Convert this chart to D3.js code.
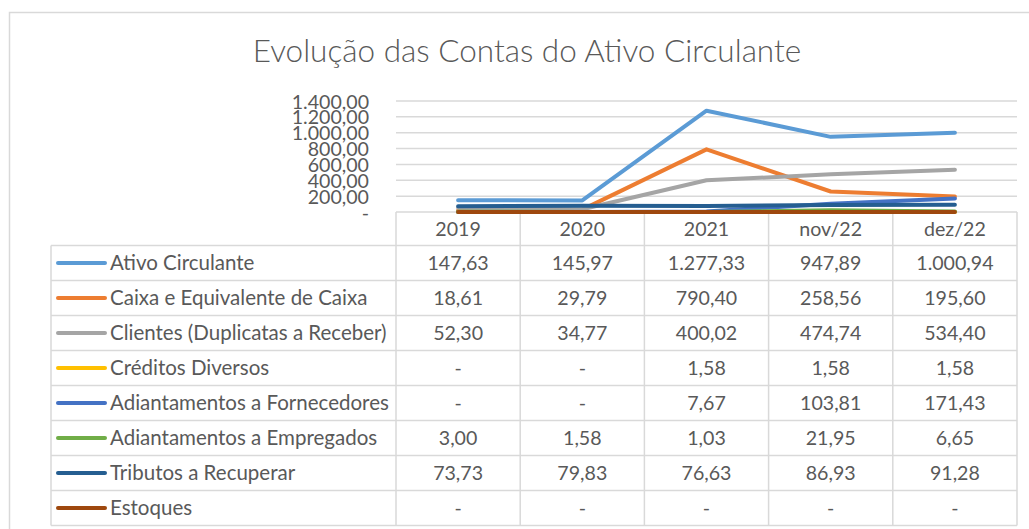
<!DOCTYPE html>
<html>
<head>
<meta charset="utf-8">
<script src="https://cdn.jsdelivr.net/npm/d3@7"></script>
<style>
  html, body { margin: 0; padding: 0; background: #fff; }
  svg { display: block; }
  text { font-family: Lato, "Open Sans", "Liberation Sans", sans-serif; fill: #595959; }
</style>
</head>
<body>
<svg id="chart" width="1029" height="529"></svg>
<script>
// ---- Data ----
const title = "Evolução das Contas do Ativo Circulante";
const categories = ["2019", "2020", "2021", "nov/22", "dez/22"];
const seriesNames = [
  "Ativo Circulante",
  "Caixa e Equivalente de Caixa",
  "Clientes (Duplicatas a Receber)",
  "Créditos Diversos",
  "Adiantamentos a Fornecedores",
  "Adiantamentos a Empregados",
  "Tributos a Recuperar",
  "Estoques"
];
const ativoCirculante      = [147.63, 145.97, 1277.33, 947.89, 1000.94];
const caixaEquivalente     = [18.61, 29.79, 790.40, 258.56, 195.60];
const clientes             = [52.30, 34.77, 400.02, 474.74, 534.40];
const creditosDiversos     = [0, 0, 1.58, 1.58, 1.58];
const adiantFornecedores   = [0, 0, 7.67, 103.81, 171.43];
const adiantEmpregados     = [3.00, 1.58, 1.03, 21.95, 6.65];
const tributosRecuperar    = [73.73, 79.83, 76.63, 86.93, 91.28];
const estoques             = [0, 0, 0, 0, 0];
const seriesValues = [ativoCirculante, caixaEquivalente, clientes, creditosDiversos,
                      adiantFornecedores, adiantEmpregados, tributosRecuperar, estoques];
const seriesColors = ["#5B9BD5", "#ED7D31", "#A5A5A5", "#FFC000", "#4472C4", "#70AD47", "#255E91", "#9E480E"];
const yTicks = [0, 200, 400, 600, 800, 1000, 1200, 1400];

// ---- Layout ----
const svg = d3.select("#chart");
const W = 1029, H = 529;
const plotLeft = 396, plotRight = 1017;
const plotTop = 101, plotBottom = 212;
const tableLeft = 51;
const headerBottom = 245.5;
const rowH = 35;
const gridColor = "#d9d9d9";
const fontSize = 19.6;
const labelSize = 20.5;

svg.append("rect").attr("width", W).attr("height", H).attr("fill", "#fff");
svg.append("rect")
  .attr("x", 9.5).attr("y", 12.5).attr("width", W + 20).attr("height", H + 20)
  .attr("fill", "none").attr("stroke", gridColor).attr("stroke-width", 1.5);

svg.append("text")
  .attr("x", 527).attr("y", 62)
  .attr("text-anchor", "middle")
  .style("font-size", "31.5px").style("font-weight", 300)
  .text(title);

const loc = d3.formatLocale({ decimal: ",", thousands: ".", grouping: [3], currency: ["", ""] });
const numFmt = loc.format(",.2f");
const fmt = v => v === 0 ? "-" : numFmt(v);

const x = d3.scaleBand().domain(categories).range([plotLeft, plotRight]);
const y = d3.scaleLinear().domain([0, 1400]).range([plotBottom, plotTop]);

// gridlines
const gridG = svg.append("g");
gridG.selectAll("line").data(yTicks.filter(t => t > 0)).join("line")
  .attr("x1", plotLeft).attr("x2", plotRight)
  .attr("y1", d => y(d)).attr("y2", d => y(d))
  .attr("stroke", gridColor).attr("stroke-width", 1.5);

// y axis labels
const yAxis = d3.axisLeft(y).tickValues(yTicks).tickSize(0).tickPadding(0).tickFormat(fmt);
const yg = svg.append("g").attr("transform", `translate(369,0)`).call(yAxis);
yg.select(".domain").remove();
yg.selectAll("text").style("font-size", fontSize + "px").style("fill", "#595959")
  .style("font-family", "Lato, 'Open Sans', sans-serif").attr("dy", "0.36em");

// table grid
const nRows = seriesNames.length;
const tableBottom = headerBottom + nRows * rowH;
const tg = svg.append("g");
tg.append("line").attr("x1", plotLeft).attr("x2", plotRight)
  .attr("y1", plotBottom).attr("y2", plotBottom).attr("stroke", gridColor).attr("stroke-width", 1.5);
d3.range(nRows + 1).forEach(i => {
  const yy = headerBottom + i * rowH;
  tg.append("line").attr("x1", tableLeft).attr("x2", plotRight)
    .attr("y1", yy).attr("y2", yy).attr("stroke", gridColor).attr("stroke-width", 1.5);
});
const colEdges = categories.map(c => x(c)).concat([plotRight]);
colEdges.forEach(cx => {
  tg.append("line").attr("x1", cx).attr("x2", cx)
    .attr("y1", plotBottom).attr("y2", tableBottom).attr("stroke", gridColor).attr("stroke-width", 1.5);
});
tg.append("line").attr("x1", tableLeft).attr("x2", tableLeft)
  .attr("y1", headerBottom).attr("y2", tableBottom).attr("stroke", gridColor).attr("stroke-width", 1.5);

// header labels
svg.append("g").selectAll("text").data(categories).join("text")
  .attr("x", d => x(d) + x.bandwidth() / 2)
  .attr("y", (plotBottom + headerBottom) / 2)
  .attr("dy", "0.36em")
  .attr("text-anchor", "middle")
  .style("font-size", fontSize + "px")
  .text(d => d);

// rows
const rows = svg.append("g").selectAll("g").data(seriesNames).join("g")
  .attr("transform", (d, i) => `translate(0,${headerBottom + i * rowH + rowH / 2})`);
rows.append("line")
  .attr("x1", 58).attr("x2", 105).attr("y1", 0).attr("y2", 0)
  .attr("stroke", (d, i) => seriesColors[i]).attr("stroke-width", 4).attr("stroke-linecap", "round");
rows.append("text")
  .attr("x", 110).attr("dy", "0.36em")
  .style("font-size", labelSize + "px")
  .text(d => d);
rows.each(function(d, i) {
  d3.select(this).selectAll("text.val").data(seriesValues[i]).join("text")
    .attr("class", "val")
    .attr("x", (v, j) => x(categories[j]) + x.bandwidth() / 2)
    .attr("dy", "0.36em")
    .attr("text-anchor", "middle")
    .style("font-size", fontSize + "px")
    .text(v => fmt(v));
});

// lines
const line = d3.line()
  .x((v, j) => x(categories[j]) + x.bandwidth() / 2)
  .y(v => y(v));
svg.append("g").selectAll("path").data(seriesValues).join("path")
  .attr("d", d => line(d))
  .attr("fill", "none")
  .attr("stroke", (d, i) => seriesColors[i])
  .attr("stroke-width", 4)
  .attr("stroke-linecap", "round")
  .attr("stroke-linejoin", "round");
</script>
</body>
</html>
